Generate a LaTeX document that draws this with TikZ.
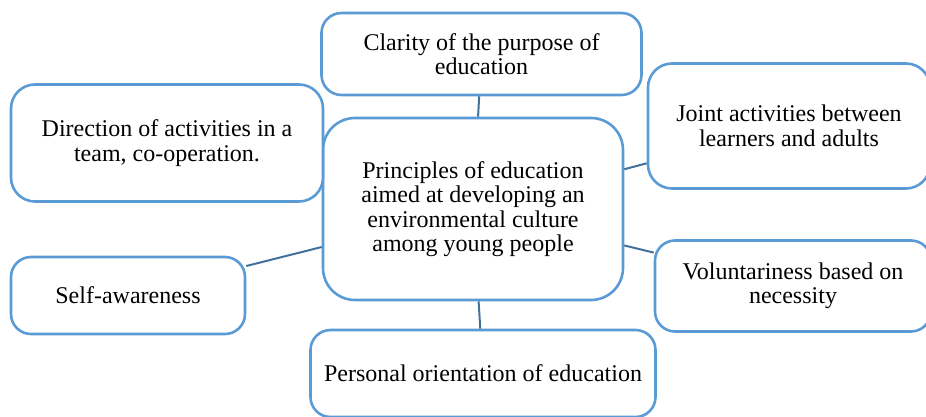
\documentclass[tikz,border=0pt]{standalone}
\usepackage{fontspec}
\setmainfont{Liberation Serif}
\usepackage{tikz}

\definecolor{BoxBlue}{HTML}{5B9BD5}
\definecolor{LinkBlue}{HTML}{41719C}

\begin{document}
\begin{tikzpicture}[x=1pt, y=-1pt,
	principle/.style={draw=BoxBlue, line width=2.6pt, rounded corners=20pt, fill=white, align=center, inner sep=0pt, font=\fontsize{24}{24.5}\selectfont},
	link/.style={draw=LinkBlue, line width=2pt}]
	\useasboundingbox (0,0) rectangle (926,417);

	\node[principle, minimum width=300pt, minimum height=182pt, rounded corners=32pt] (principles) at (473,209) {Principles of education\\aimed at developing an\\environmental culture\\among young people};

	\node[principle, minimum width=320pt, minimum height=82pt] (clarity) at (481.5,54) {Clarity of the purpose of\\education};
	\node[principle, minimum width=312pt, minimum height=117pt, rounded corners=24pt] (direction) at (167,143) {Direction of activities in a\\team, co-operation.};
	\node[principle, minimum width=282pt, minimum height=125pt, rounded corners=24pt] (joint) at (789,126) {Joint activities between\\learners and adults};
	\node[principle, minimum width=276pt, minimum height=91pt] (voluntariness) at (793,286) {Voluntariness based on\\necessity};
	\node[principle, minimum width=234pt, minimum height=77pt] (selfaware) at (128,295.5) {Self-awareness};
	\node[principle, minimum width=345pt, minimum height=87pt] (personal) at (483,373.5) {Personal orientation of education};

	\draw[link] (principles) -- (clarity);
	\draw[link] (principles) -- (joint);
	\draw[link] (principles) -- (voluntariness);
	\draw[link] (principles) -- (personal);
	\draw[link] (principles) -- (selfaware);

\end{tikzpicture}
\end{document}
